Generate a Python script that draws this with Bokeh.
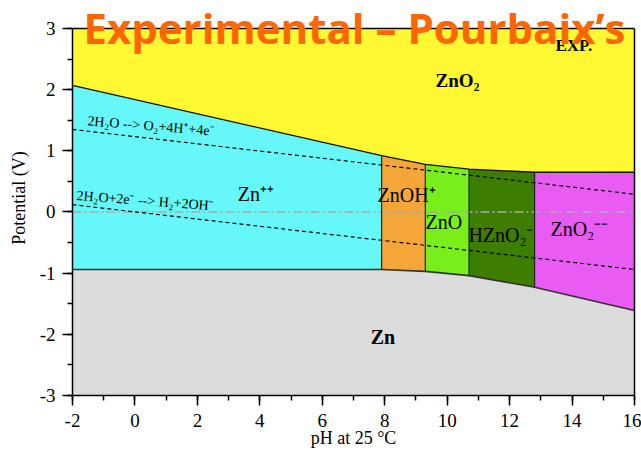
from bokeh.plotting import figure
from bokeh.models import Range1d, SingleIntervalTicker, FixedTicker, Label, Span, LinearAxis
from bokeh.core.properties import value
from bokeh.embed import file_html
from bokeh.resources import INLINE

# ---- data ----
ph_bounds = [-2, 7.9, 9.3, 10.7, 12.8, 16]
upper_v = [2.07, 0.92, 0.78, 0.70, 0.65, 0.65]
lower_v = [-0.94, -0.94, -0.97, -1.04, -1.23, -1.61]
species = ["Zn⁺⁺", "ZnOH⁺", "ZnO", "HZnO₂⁻", "ZnO₂⁻⁻"]
species_colors = ["#66F8F8", "#F5A638", "#78EE1A", "#3D7D00", "#E85CF3"]
species_label_x = [3.29, 7.77, 9.31, 10.68, 13.31]
species_label_y = [0.29, 0.27, -0.17, -0.37, -0.28]
top_species, top_color = "ZnO₂", "#FFF833"
bottom_species, bottom_color = "Zn", "#DCDCDC"
water_ph = [-2, 16]
o2_line_v = [1.35, 0.29]
h2_line_v = [0.12, -0.94]
x_ticks = [-2, 0, 2, 4, 6, 8, 10, 12, 14, 16]
y_ticks = [-3, -2, -1, 0, 1, 2, 3]
ph_min, ph_max = -2, 16
v_min, v_max = -3, 3

SERIF = "Liberation Serif"

# frame extends to the top of the canvas so the overlaid title is not clipped;
# the diagram itself occupies -3..3 V
top_extra = 28 / 61.17
p = figure(width=641, height=454, output_backend="svg", toolbar_location=None,
           x_range=Range1d(ph_min, ph_max), y_range=Range1d(v_min, v_max + top_extra),
           min_border_left=72, min_border_right=7, min_border_top=0, min_border_bottom=59)
p.background_fill_color = "white"
p.border_fill_color = "white"
p.xgrid.visible = False
p.ygrid.visible = False
p.outline_line_color = None

# regions
p.patch(ph_bounds + [ph_max, ph_min], upper_v + [v_max, v_max], fill_color=top_color, line_color=None)
p.patch(ph_bounds + [ph_max, ph_min], lower_v + [v_min, v_min], fill_color=bottom_color, line_color=None)
for i, c in enumerate(species_colors):
    xs = [ph_bounds[i], ph_bounds[i + 1], ph_bounds[i + 1], ph_bounds[i]]
    ys = [lower_v[i], lower_v[i + 1], upper_v[i + 1], upper_v[i]]
    p.patch(xs, ys, fill_color=c, line_color=None)

# zero line
p.line([ph_min, ph_max], [0, 0], line_color="#AAAAAA", line_width=1.3, line_dash="9 3 2 3")
# water lines
p.line(water_ph, o2_line_v, line_color="black", line_width=1.2, line_dash="4 3")
p.line(water_ph, h2_line_v, line_color="black", line_width=1.2, line_dash="4 3")

# boundaries
p.line(ph_bounds, upper_v, line_color="#111111", line_width=1.3)
p.line(ph_bounds, lower_v, line_color="#333333", line_width=1.6)
for i in range(1, len(ph_bounds) - 1):
    p.line([ph_bounds[i], ph_bounds[i]], [lower_v[i], upper_v[i]], line_color="#222222", line_width=1.2)

# top frame edge
p.add_layout(Span(location=v_max, dimension="width", line_color="black", line_width=1.5))

# labels
p.text(species_label_x, species_label_y, text=species, text_font=value(SERIF),
       text_font_size="20px", text_color="black", text_baseline="alphabetic", text_align="left")
p.text([9.63], [2.15], text=[top_species], text_font=value(SERIF), text_font_style="bold",
       text_font_size="19px", text_color="black", text_baseline="alphabetic")
p.text([7.55], [-2.05], text=[bottom_species], text_font=value(SERIF), text_font_style="bold",
       text_font_size="20px", text_color="black", text_baseline="alphabetic")
p.text([13.47], [2.72], text=["EXP."], text_font=value(SERIF), text_font_style="bold",
       text_font_size="17px", text_color="black", text_baseline="alphabetic")
p.text([-1.52], [1.49], text=["2H₂O --> O₂+4H⁺+4e⁻"], angle=-0.08, text_font=value(SERIF),
       text_font_size="14px", text_color="black", text_baseline="alphabetic")
p.text([-1.87], [0.27], text=["2H₂O+2e⁻ --> H₂+2OH⁻"], angle=-0.076, text_font=value(SERIF),
       text_font_size="14px", text_color="black", text_baseline="alphabetic")

# title overlay
p.add_layout(Label(x=-1.65, y=3.02, text="Experimental – Pourbaix’s", text_font="Open Sans",
                   text_font_style="bold", text_font_size="42px", text_color="#FF6600",
                   text_baseline="alphabetic"))

# right frame edge as a bare axis (no ticks, no labels)
right_ax = LinearAxis(bounds=(v_min, v_max), ticker=FixedTicker(ticks=[]),
                      major_tick_line_color=None, minor_tick_line_color=None,
                      axis_line_color="black", axis_line_width=1.5)
p.add_layout(right_ax, "right")

# axes
p.xaxis.ticker = SingleIntervalTicker(interval=2, num_minor_ticks=2)
p.yaxis[0].ticker = SingleIntervalTicker(interval=1, num_minor_ticks=2)
p.yaxis[0].bounds = (v_min, v_max)
p.xaxis.major_label_overrides = {t: str(t) for t in x_ticks}
p.yaxis[0].major_label_overrides = {t: str(t) for t in y_ticks}
for ax in (p.xaxis[0], p.yaxis[0]):
    ax.axis_line_color = "black"
    ax.axis_line_width = 1.5
    ax.major_tick_line_color = "black"
    ax.major_tick_line_width = 1.5
    ax.minor_tick_line_color = "black"
    ax.minor_tick_line_width = 1.5
    ax.major_tick_in = 0
    ax.major_tick_out = 10
    ax.minor_tick_in = 0
    ax.minor_tick_out = 5
    ax.major_label_text_font = SERIF
    ax.major_label_text_font_size = "19px"
    ax.major_label_text_color = "black"
    ax.axis_label_text_font = SERIF
    ax.axis_label_text_font_size = "18px"
    ax.axis_label_text_font_style = "normal"
    ax.axis_label_text_color = "black"
p.xaxis[0].axis_label = "pH at 25 °C"
p.yaxis[0].axis_label = "Potential (V)"
p.xaxis[0].major_label_standoff = 8
p.yaxis[0].major_label_standoff = 7
p.xaxis[0].axis_label_standoff = -2
p.yaxis[0].axis_label_standoff = 8

open("out.html", "w").write(file_html(p, INLINE))
